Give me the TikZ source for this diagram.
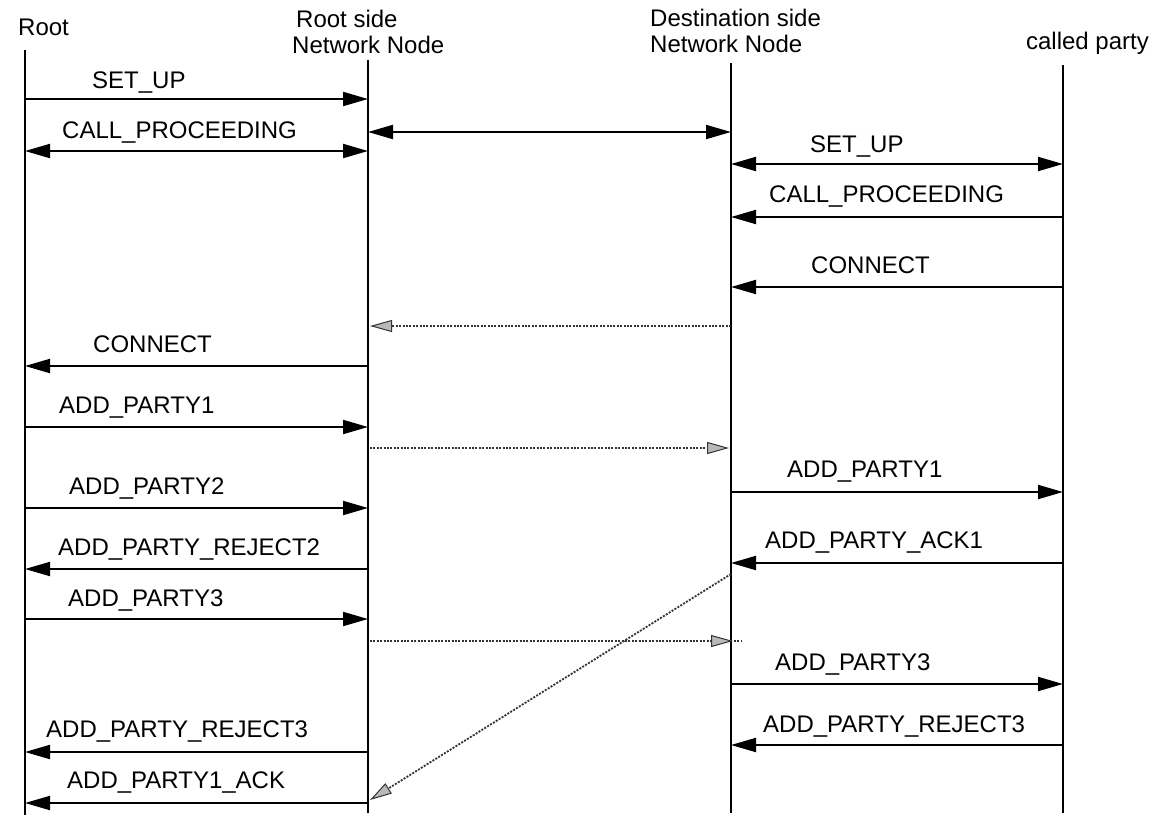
\documentclass[tikz,border=0pt]{standalone}
\usepackage{fontspec}
\setmainfont{Liberation Sans}
\usetikzlibrary{arrows.meta}
\begin{document}
\begin{tikzpicture}[x=1pt,y=-1pt,
  life/.style={line width=1.8pt},
  msg/.style={line width=2pt,-{Triangle[length=25pt,width=14pt]}},
  dmsg/.style={line width=2pt,{Triangle[length=25pt,width=14pt]}-{Triangle[length=25pt,width=14pt]}},
  relayline/.style={line width=1.8pt,black!80,dash pattern=on 2pt off 1.4pt},
  relay/.style={relayline,
    -{Triangle[length=22pt,width=12pt,fill=gray!55,line width=1pt]}},
  lbl/.style={anchor=base west,inner sep=0pt,font=\fontsize{24}{28}\selectfont},
  head/.style={lbl}]
\useasboundingbox (0,0) rectangle (1156,815);

% lifelines
\coordinate (rootT) at (25,50);   \coordinate (rootB) at (25,815);
\coordinate (rsT)   at (368,60);  \coordinate (rsB)   at (368,813);
\coordinate (dsT)   at (731,63);  \coordinate (dsB)   at (731,813);
\coordinate (cpT)   at (1063,65); \coordinate (cpB)   at (1063,813);
\draw[life] (rootT) -- (rootB);
\draw[life] (rsT) -- (rsB);
\draw[life] (dsT) -- (dsB);
\draw[life] (cpT) -- (cpB);

% headers
\node[head] (hroot) at (18,35) {Root};
\node[head] (hrs1) at (296,27) {Root side};
\node[head] (hrs2) at (292,53) {Network Node};
\node[head] (hds1) at (650,26) {Destination side};
\node[head] (hds2) at (650,52) {Network Node};
\node[head,anchor=base east] (hcp) at (1149,49) {called party};

% root <-> root side network node
\draw[msg]  (rootT |- 0,99)  -- (rsT |- 0,99);
\node[lbl] (l1) at (92,88) {SET\_UP};
\draw[dmsg] (rootT |- 0,151) -- (rsT |- 0,151);
\node[lbl] (l2) at (62,138) {CALL\_PROCEEDING};

% network node <-> network node
\draw[dmsg] (rsT |- 0,132) -- (dsT |- 0,132);

% destination side <-> called party
\draw[dmsg] (dsT |- 0,164) -- (cpT |- 0,164);
\node[lbl] (l3) at (810,152) {SET\_UP};
\draw[msg]  (cpT |- 0,217) -- (dsT |- 0,217);
\node[lbl] (l4) at (769,202) {CALL\_PROCEEDING};
\draw[msg]  (cpT |- 0,287) -- (dsT |- 0,287);
\node[lbl] (l5) at (811,273) {CONNECT};

\draw[relay] (dsT |- 0,326) -- ([xshift=2pt]rsT |- 0,326);

\draw[msg]  (rsT |- 0,366) -- (rootT |- 0,366);
\node[lbl] (l6) at (93,352) {CONNECT};
\draw[msg]  (rootT |- 0,427) -- (rsT |- 0,427);
\node[lbl] (l7) at (59,413) {ADD\_PARTY1};

\draw[relay] ([xshift=2pt]rsT |- 0,448) -- ([xshift=-2pt]dsT |- 0,448);

\draw[msg]  (dsT |- 0,492) -- (cpT |- 0,492);
\node[lbl] (l8) at (787,477) {ADD\_PARTY1};
\draw[msg]  (rootT |- 0,508) -- (rsT |- 0,508);
\node[lbl] (l9) at (69,494) {ADD\_PARTY2};
\draw[msg]  (cpT |- 0,563) -- (dsT |- 0,563);
\node[lbl] (l10) at (765,548) {ADD\_PARTY\_ACK1};
\draw[msg]  (rsT |- 0,569) -- (rootT |- 0,569);
\node[lbl] (l11) at (58,555) {ADD\_PARTY\_REJECT2};
\draw[msg]  (rootT |- 0,619) -- (rsT |- 0,619);
\node[lbl] (l12) at (68,606) {ADD\_PARTY3};

% relay running a little past the destination node line
\coordinate (over) at (742,641);
\draw[relayline] ([xshift=2pt]rsT |- 0,641) -- (over);
\draw[relay] ([xshift=2pt]rsT |- 0,641) -- ([xshift=2pt]dsT |- 0,641);

\draw[msg]  (dsT |- 0,684) -- (cpT |- 0,684);
\node[lbl] (l13) at (775,670) {ADD\_PARTY3};
\draw[msg]  (cpT |- 0,745) -- (dsT |- 0,745);
\node[lbl] (l14) at (763,732) {ADD\_PARTY\_REJECT3};
\draw[msg]  (rsT |- 0,752) -- (rootT |- 0,752);
\node[lbl] (l15) at (46,737) {ADD\_PARTY\_REJECT3};
\draw[msg]  (rsT |- 0,803) -- (rootT |- 0,803);
\node[lbl] (l16) at (67,788) {ADD\_PARTY1\_ACK};

% acknowledgement relayed back diagonally
\draw[relay] (dsT |- 0,574) -- ([xshift=2pt]rsT |- 0,800);
\end{tikzpicture}
\end{document}
